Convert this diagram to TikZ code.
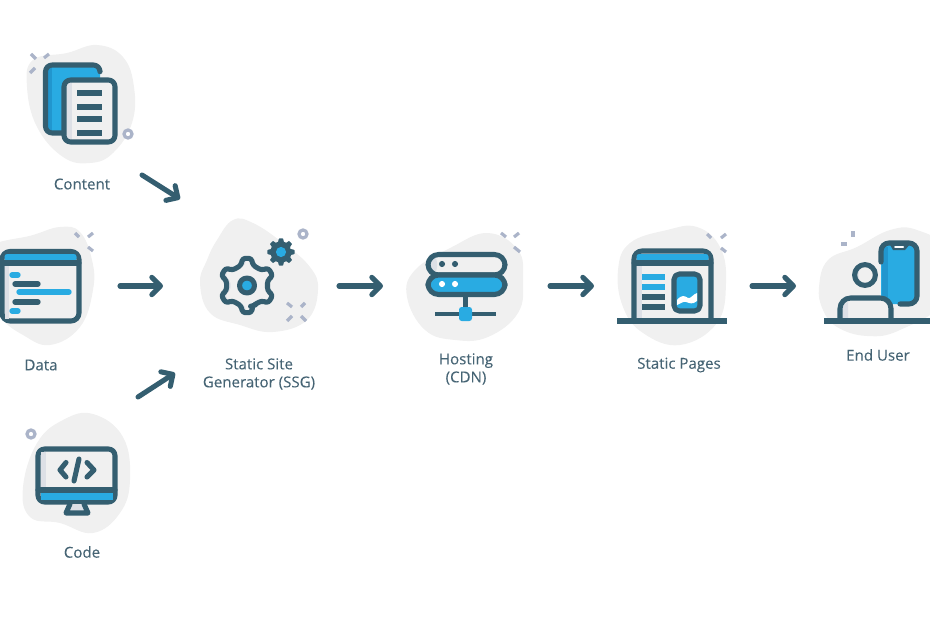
\documentclass[tikz,border=0pt]{standalone}
\usepackage{fontspec}
\setmainfont{Open Sans}[FakeBold=0.08]
\usetikzlibrary{arrows.meta}
\definecolor{inkc}{HTML}{345E70}
\definecolor{skyc}{HTML}{29ABE2}
\definecolor{skyd}{HTML}{2196CE}
\definecolor{blobc}{HTML}{F0F0F0}
\definecolor{shadec}{HTML}{DDE0E6}
\definecolor{sparkc}{HTML}{ABB4C9}
\definecolor{textc}{HTML}{466474}
\newcommand{\gearpath}{(74:21)\foreach \a in {90,150,...,390}{--(\a-17:21)--(\a-9:27.5)--(\a+9:27.5)--(\a+17:21)}--cycle}
\tikzset{
  blob/.style={fill=blobc,draw=none},
  ink/.style={draw=inkc,line width=3.8pt,line join=round,line cap=round},
  bar/.style={line width=4pt,line cap=round},
  spark/.style={draw=sparkc,line width=2.4pt},
  ringy/.style={draw=sparkc,line width=2.4pt,fill=white},
  flow/.style={draw=inkc,line width=3.8pt,line cap=round,-{Straight Barb[length=6.5pt,width=13pt,line width=3.8pt,round]}},
  lbl/.style={text=textc,font=\fontsize{11.3}{13.5}\selectfont,align=center,inner sep=0pt}
}
\begin{document}
\begin{tikzpicture}[x=0.75pt,y=-0.75pt]
\useasboundingbox (0,0) rectangle (930,620);
% blobs
\fill[blob] plot[smooth cycle,tension=0.7] coordinates{(27,87)(33,60)(67,53)(97,45)(123,57)(134,87)(132,123)(113,153)(90,163)(63,157)(37,127)};
\fill[blob] plot[smooth cycle,tension=0.7] coordinates{(-15,250)(33,235)(60,227)(80,232)(92,260)(93,290)(80,327)(50,345)(23,335)(0,317)(-15,290)};
\fill[blob] plot[smooth cycle,tension=0.7] coordinates{(93,414)(63,420)(37,443)(23,487)(30,517)(60,523)(93,533)(120,513)(130,480)(123,437)};
\fill[blob] plot[smooth cycle,tension=0.7] coordinates{(233,220)(217,240)(207,260)(200,283)(210,313)(240,325)(273,332)(307,320)(318,290)(310,267)(283,243)(253,223)};
\fill[blob] plot[smooth cycle,tension=0.7] coordinates{(407,297)(415,270)(452,247)(488,233)(518,250)(523,280)(518,313)(488,337)(455,340)(425,330)};
\fill[blob] plot[smooth cycle,tension=0.7] coordinates{(618,270)(630,243)(667,230)(697,227)(720,247)(726,283)(717,323)(680,345)(643,333)(623,307)};
\fill[blob] plot[smooth cycle,tension=0.7] coordinates{(819,287)(828,260)(857,247)(890,230)(917,230)(945,250)(945,300)(900,330)(867,336)(837,327)(823,310)};
% sparks
\foreach \xa/\ya/\xb/\yb in {31/54/36/59,44/58/49/54,30/73/35/68,75/233/79/237,88/237/93/233,88/247/93/251,
  287/303/292/307,305/303/301/307,287/321/292/316,306/321/301/316,501/233/506/237,514/237/519/233,514/247/520/252,
  707/234/711/238,721/238/726/234,721/248/726/252,853/231/853/237,841/244/847/244}
  \draw[spark](\xa,\ya)--(\xb,\yb);
\foreach \xa/\ya in {128/134,31/434,303/234}
  \draw[ringy](\xa,\ya)circle[radius=3pt];
% content
\fill[skyc,rounded corners=4pt](45,65)rectangle(100,133);
\fill[skyd](47,67)rectangle(52,131);
\draw[ink,rounded corners=5pt](100,71)--(100,65)--(45.5,65)--(45.5,133)--(62,133);
\fill[blobc,rounded corners=5pt](64,80)rectangle(115,142);
\fill[shadec](64,82)rectangle(72,140);
\draw[ink,rounded corners=5pt](64,80)rectangle(115,142);
\foreach \y in {93,107,119,133}
  \draw[draw=inkc,line width=3.8pt](77,\y)--(102,\y);
% data
\draw[ink,fill=blobc,rounded corners=6pt](2,251.5)rectangle(79,321);
\fill[shadec](4.5,265)rectangle(9,318.5);
\fill[skyc,rounded corners=2pt](4.5,254)rectangle(76.5,261);
\draw[ink](2,263)--(79,263);
\foreach \xa/\xb/\y/\c in {12/18/275/skyc,15/38/284/inkc,19/69/292/skyc,15/38/302/inkc,12/18/311/skyc}
  \draw[bar,draw=\c](\xa,\y)--(\xb,\y);
% code
\draw[ink,fill=blobc,rounded corners=5pt](38,449)rectangle(115,502);
\fill[shadec](41,451.5)rectangle(46,488);
\fill[skyc](40.5,492)rectangle(112.5,499.5);
\draw[ink](38,490)--(115,490);
\draw[ink,fill=shadec](70,504)--(66,513)--(88,513)--(84,504);
\draw[ink](66,462.5)--(60,470)--(66,477);
\draw[ink](87,462.5)--(94,470)--(87,477);
\draw[ink](79,459)--(74,481);
% big gear
\begin{scope}[shift={(247,285.5)}]
\fill[shadec,rounded corners=2pt]\gearpath;
\fill[blobc,rounded corners=2pt,xshift=3pt]\gearpath;
\draw[ink,rounded corners=2pt]\gearpath;
\draw[ink,fill=skyc](0,0)circle[radius=5.6pt];
\end{scope}
% small gear
\begin{scope}[shift={(281,252)}]
\fill[inkc,draw=inkc,line width=1pt,line join=round](0:9)\foreach \a in {0,45,...,315}{--(\a-13:10)--(\a-7:13)--(\a+7:13)--(\a+13:10)}--cycle;
\fill[skyc](0,0)circle[radius=3.8pt];
\end{scope}
% hosting
\draw[ink](465.5,295)--(465.5,314);
\draw[draw=inkc,line width=3.6pt](435,314)--(496,314);
\fill[skyc,rounded corners=2pt](459,307)rectangle(472,321);
\fill[blobc,rounded corners=8pt](428,254.5)rectangle(505,275);
\fill[shadec,rounded corners=6pt](428,254.5)--(437,254.5)--(437,275)--(428,275)--cycle;
\draw[ink,rounded corners=8pt](428,254.5)rectangle(505,275);
\draw[ink,fill=skyc,rounded corners=8pt](428,275)rectangle(505,294.5);
\foreach \x in {442,455}{
  \fill[inkc](\x,264)circle[radius=2.3pt];
  \fill[white](\x,284)circle[radius=2.3pt];
}
% static pages
\draw[ink,fill=blobc,rounded corners=6pt](634,321)--(634,251)--(711,251)--(711,321);
\fill[shadec](636.5,265)rectangle(642,319);
\fill[skyc,rounded corners=2pt](636.5,254)rectangle(708.5,261);
\draw[ink](634,263)--(711,263);
\draw[draw=inkc,line width=3.8pt](617,321)--(727,321);
\foreach \y/\c in {277/skyc,287/skyc,297/inkc,307/inkc}
  \draw[draw=\c,line width=3.8pt](642,\y)--(665,\y);
\draw[ink,fill=skyc,rounded corners=4pt](674,274)rectangle(700,311);
\fill[white](677,300)..controls(682,294)and(685,296)..(688,298)..controls(691,299)and(693,294)..(697,293)--(697,301)..controls(692,305)and(690,303)..(686,302)..controls(683,301)and(680,304)..(677,305)--cycle;
% end user
\fill[skyc,rounded corners=3pt](881,245)rectangle(917,304);
\fill[skyd](882,247)rectangle(888,302);
\draw[ink,rounded corners=6pt](881,262)--(881,243)--(917,243)--(917,304)--(900,304);
\fill[inkc](889,243)--(893,250)--(905,250)--(911,243)--cycle;
\draw[draw=white,line width=1.5pt,line cap=round](895,247)--(903,247);
\fill[shadec](865,275)circle[radius=8pt];
\fill[blobc](868.5,275)circle[radius=7.5pt];
\draw[ink](865,275)circle[radius=7.8pt];
\fill[blobc,rounded corners=8pt](840,321)--(840,298)--(891,298)--(891,321)--cycle;
\fill[shadec](841,306)--(848,302)--(848,321)--(841,321)--cycle;
\draw[ink,rounded corners=8pt](840,321)--(840,298)--(891,298)--(891,321);
\draw[draw=inkc,line width=3.8pt](824,321)--(930,321);
% labels
\node[lbl](contentLbl)at(82,184){Content};
\node[lbl](dataLbl)at(41,365){Data};
\node[lbl](codeLbl)at(82,552){Code};
\node[lbl](ssgLbl)at(259,374){Static Site\\Generator (SSG)};
\node[lbl](cdnLbl)at(466,369){Hosting\\(CDN)};
\node[lbl](pagesLbl)at(679,365){Static Pages};
\node[lbl](userLbl)at(878,355){End User};
% arrows
\coordinate(contentOut)at(142,175);
\coordinate(ssgInA)at(180,199);
\coordinate(dataOut)at(120,286);
\coordinate(ssgInB)at(163,286);
\coordinate(codeOut)at(138,397);
\coordinate(ssgInC)at(175,373);
\coordinate(ssgOut)at(339,286);
\coordinate(cdnIn)at(383,286);
\coordinate(cdnOut)at(550,286);
\coordinate(pagesIn)at(594,286);
\coordinate(pagesOut)at(752,286);
\coordinate(userIn)at(796,286);
\draw[flow](contentOut)--(ssgInA);
\draw[flow](dataOut)--(ssgInB);
\draw[flow](codeOut)--(ssgInC);
\draw[flow](ssgOut)--(cdnIn);
\draw[flow](cdnOut)--(pagesIn);
\draw[flow](pagesOut)--(userIn);
\end{tikzpicture}
\end{document}
